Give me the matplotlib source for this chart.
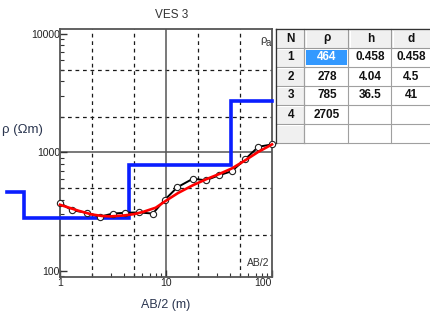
import matplotlib
matplotlib.use("Agg")
import matplotlib.pyplot as plt
from matplotlib.patches import Rectangle

# ---------------- data ----------------
ab2_obs = [1.0, 1.29, 1.80, 2.38, 3.14, 4.1, 5.6, 7.5, 9.8, 12.8, 17.9, 23.8, 31.8, 41.7, 55.6, 74.3, 99.4]
rho_obs = [376, 326, 310, 287, 305, 310, 312, 305, 401, 509, 600, 583, 643, 695, 873, 1117, 1168]

ab2_fit = [1.0, 1.5, 2.0, 2.5, 3.0, 4.0, 5.0, 6.0, 8.0, 10, 13, 18, 24, 32, 42, 56, 74, 100]
rho_fit = [362, 322, 300, 291, 289, 294, 302, 314, 342, 392, 455, 530, 595, 660, 735, 860, 1010, 1170]

layer_n = ["1", "2", "3", "4"]
layer_rho = [464, 278, 785, 2705]
layer_h = ["0.458", "4.04", "36.5", ""]
layer_d = [0.458, 4.5, 41]
layer_d_txt = ["0.458", "4.5", "41", ""]
model_x_start = 0.315
model_x_end = 100

title = "VES 3"
xlabel = "AB/2 (m)"
ylabel = "ρ (Ωm)"

# ---------------- figure ----------------
W, H = 431, 316
fig = plt.figure(figsize=(W / 100, H / 100), dpi=100)
fig.patch.set_facecolor("white")

ax_l, ax_r, ax_t, ax_b = 60, 272, 29.3, 276.7
ax = fig.add_axes([ax_l / W, (H - ax_b) / H, (ax_r - ax_l) / W, (ax_b - ax_t) / H])
ax.set_xscale("log")
ax.set_yscale("log")
ax.set_xlim(1, 100)
ax.set_ylim(89.5, 10950)

grid_dash = dict(color="#1a1a1a", lw=0.9, ls=(0, (3, 3)), zorder=1)
for gx in [2, 5, 20, 50]:
    ax.axvline(gx, **grid_dash)
for gy in [200, 500, 2000, 5000]:
    ax.axhline(gy, **grid_dash)
ax.axvline(10, color="#555555", lw=1.1, zorder=1)
ax.axhline(1000, color="#555555", lw=1.1, zorder=1)

for s in ax.spines.values():
    s.set_color("#555555")
    s.set_linewidth(1.3)

ax.set_xticks([1, 10, 100])
ax.set_xticklabels(["1", "10", "100"])
ax.set_yticks([100, 1000, 10000])
ax.set_yticklabels(["100", "1000", "10000"])
for lab in ax.get_xticklabels() + ax.get_yticklabels():
    lab.set_fontfamily("Liberation Sans")
    lab.set_fontsize(7.5)
    lab.set_color("#222222")
ax.get_xticklabels()[-1].set_horizontalalignment("right")
ax.tick_params(which="major", direction="in", length=5, width=1, color="#333333", pad=1)
ax.tick_params(axis="y", which="major", pad=0)
ax.tick_params(which="minor", direction="in", length=3, width=0.8, color="#333333")
ax.tick_params(axis="x", which="both", top=False)
ax.tick_params(axis="y", which="both", right=False)
ax.xaxis.set_minor_formatter(matplotlib.ticker.NullFormatter())
ax.yaxis.set_minor_formatter(matplotlib.ticker.NullFormatter())

# model (blue steps)
step_x = [model_x_start] + layer_d + [model_x_end]
step_y = layer_rho + [layer_rho[-1]]
ax.step(step_x, step_y, where="post", color="#0a1eff", lw=2.6, clip_on=False, zorder=3,
        solid_joinstyle="miter")

# observed data
ax.plot(ab2_obs, rho_obs, color="black", lw=1.4, zorder=4)
ax.plot(ab2_obs, rho_obs, ls="none", marker="o", ms=4.5, mfc="white", mec="#222222",
        mew=0.8, zorder=5, clip_on=False)
# fitted curve
ax.plot(ab2_fit, rho_fit, color="#ff0000", lw=1.9, zorder=6, clip_on=False)

# in-plot labels
ax.text(0.975, 0.955, "ρ", transform=ax.transAxes, ha="right", va="center",
        family="Liberation Sans", fontsize=8, color="#333333")
ax.text(0.995, 0.945, "a", transform=ax.transAxes, ha="right", va="center",
        family="Liberation Sans", fontsize=7, color="#333333")
ax.text(0.99, 0.055, "AB/2", transform=ax.transAxes, ha="right", va="center",
        family="Liberation Sans", fontsize=7.5, color="#333333")

# titles
fig.text(172 / W, 1 - 15 / H, title, ha="center", va="center",
         family="Liberation Sans", fontsize=8.5, color="#333333")
fig.text(2 / W, 1 - 130 / H, ylabel, ha="left", va="center",
         family="Liberation Sans", fontsize=9.5, color="#2b3650")
fig.text(166 / W, 1 - 305 / H, xlabel, ha="center", va="center",
         family="Liberation Sans", fontsize=9, color="#2b3650")

# ---------------- table ----------------
tab = fig.add_axes([0, 0, 1, 1], zorder=10)
tab.set_xlim(0, W)
tab.set_ylim(H, 0)
tab.axis("off")
tab.patch.set_alpha(0)

col_x = [276.5, 305, 349, 392, 433]
row_y = [29, 48, 67, 86, 105, 124, 143]
headers = ["N", "ρ", "h", "d"]
grey = "#f0f0f0"
tfont = dict(family="Liberation Sans", fontsize=8.5, fontweight="bold", color="#111111")

tab.add_patch(Rectangle((col_x[0], row_y[0]), col_x[-1] - col_x[0], row_y[-1] - row_y[0],
                        facecolor="white", edgecolor="none"))

def button(x0, y0, x1, y1):
    tab.add_patch(Rectangle((x0, y0), x1 - x0, y1 - y0, facecolor=grey, edgecolor="none"))
    tab.plot([x0 + 0.5, x1 - 0.5], [y0 + 0.8, y0 + 0.8], color="white", lw=0.8)
    tab.plot([x0 + 0.8, x0 + 0.8], [y0 + 0.5, y1 - 0.5], color="white", lw=0.8)
    tab.plot([x0, x1], [y1 - 0.5, y1 - 0.5], color="#9a9a9a", lw=0.8)
    tab.plot([x1 - 0.5, x1 - 0.5], [y0, y1], color="#9a9a9a", lw=0.8)

for c in range(4):
    button(col_x[c], row_y[0], col_x[c + 1], row_y[1])
for r in range(1, 6):
    button(col_x[0], row_y[r], col_x[1], row_y[r + 1])

for c in range(1, 5):
    tab.plot([col_x[c] - 0.5, col_x[c] - 0.5], [row_y[1], row_y[-1]], color="#a0a0a0", lw=0.8)
for r in range(2, 7):
    tab.plot([col_x[1], col_x[-1]], [row_y[r] - 0.5, row_y[r] - 0.5], color="#a0a0a0", lw=0.8)
tab.plot([col_x[0], col_x[0]], [row_y[0], row_y[-1]], color="#333333", lw=1.0)
tab.plot([col_x[0], col_x[-1]], [row_y[0], row_y[0]], color="#333333", lw=1.0)

tab.add_patch(Rectangle((col_x[1] + 1.5, row_y[1] + 1.5), col_x[2] - col_x[1] - 3.5,
                        row_y[2] - row_y[1] - 3.5, facecolor="#3399ff", edgecolor="none"))

for c, hname in enumerate(headers):
    tab.text((col_x[c] + col_x[c + 1]) / 2 - (0 if c < 3 else 1), (row_y[0] + row_y[1]) / 2,
             hname, ha="center", va="center", **tfont)

for i in range(4):
    yc = (row_y[i + 1] + row_y[i + 2]) / 2
    tab.text((col_x[0] + col_x[1]) / 2, yc, layer_n[i], ha="center", va="center", **tfont)
    f = dict(tfont)
    if i == 0:
        f["color"] = "white"
    tab.text((col_x[1] + col_x[2]) / 2, yc, str(layer_rho[i]), ha="center", va="center", **f)
    tab.text((col_x[2] + col_x[3]) / 2, yc, layer_h[i], ha="center", va="center", **tfont)
    tab.text((col_x[3] + col_x[4]) / 2 - 1, yc, layer_d_txt[i], ha="center", va="center", **tfont)

fig.savefig("out.png", dpi=100)
